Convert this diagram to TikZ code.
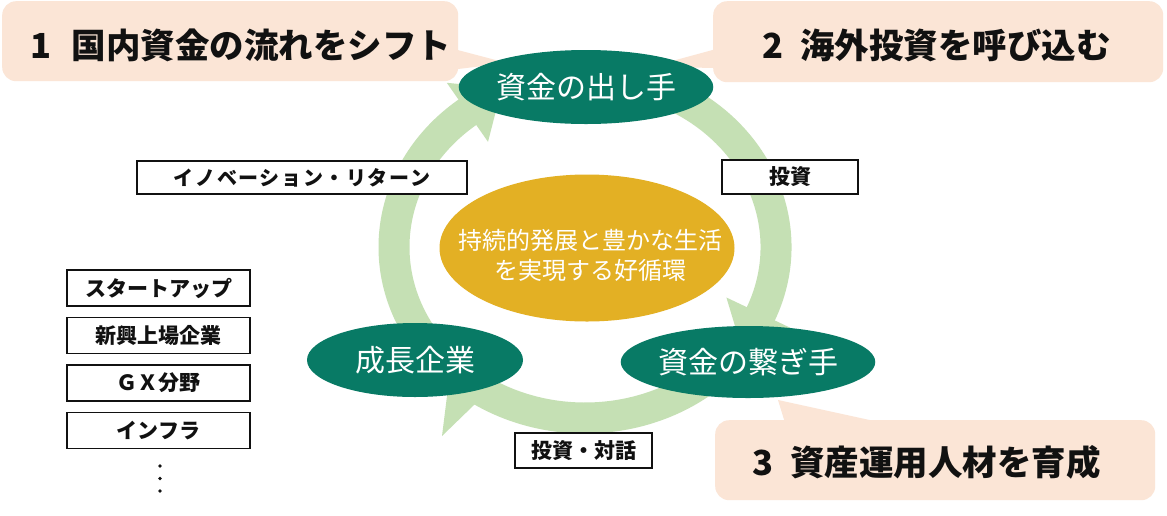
\documentclass[tikz,border=0pt]{standalone}
\usepackage{fontspec}
\setmainfont{Noto Sans CJK JP}
\usetikzlibrary{shapes.geometric}
\definecolor{peach}{HTML}{FBE5D6}
\definecolor{ringgreen}{HTML}{C5E0B4}
\definecolor{darkteal}{HTML}{087A65}
\definecolor{goldfill}{HTML}{E3B024}
\definecolor{inkblack}{HTML}{111111}
\begin{document}
\begin{tikzpicture}[x=1pt,y=-1pt,
  callout/.style={fill=peach, rounded corners=14pt, inner sep=0pt},
  calltext/.style={anchor=west, inner sep=0pt, text=inkblack, font=\bfseries\fontsize{34.5}{40}\selectfont},
  ell/.style={ellipse, fill=darkteal, inner sep=0pt, text=white, font=\fontsize{30}{36}\selectfont},
  band/.style={draw=ringgreen, line width=31pt},
  headfill/.style={fill=ringgreen},
  lbox/.style={draw=inkblack, line width=1.3pt, fill=white, inner sep=0pt, minimum height=34pt, text=inkblack, font=\bfseries\fontsize{21}{24}\selectfont},
]
\useasboundingbox (0,0) rectangle (1167,515);
\fill[white] (0,0) rectangle (1167,515);

% callouts
\node[callout, minimum width=456pt, minimum height=80pt, anchor=north west] (c1) at (2,1) {};
\coordinate (t1) at (507,63);
\fill[peach] (450,48) -- (t1) -- (450,70) -- cycle;
\node[callout, minimum width=450pt, minimum height=81pt, anchor=north west] (c2) at (713,1) {};
\coordinate (t2) at (650,67);
\fill[peach] (720,48) -- (t2) -- (720,68) -- cycle;
\node[callout, minimum width=440pt, minimum height=80pt, anchor=north west] (c3) at (715,420) {};
\coordinate (t3) at (778,400);
\fill[peach] (786,426) -- (t3) -- (897,426) -- cycle;

% ring of arrows
\coordinate (ring) at (585,247);
\draw[band] ([shift={(148:191 and 171)}]ring) arc[start angle=148, end angle=234, x radius=191, y radius=171];
\fill[headfill] (501.8,88.2) -- (488.0,141.8) -- (446.8,82.8) -- cycle;
\draw[band] ([shift={(295:191 and 171)}]ring) arc[start angle=295, end angle=385, x radius=191, y radius=171];
\fill[headfill] (742.8,351.8) -- (795.2,330.1) -- (726.4,297.5) -- cycle;
\draw[band] ([shift={(50:191 and 171)}]ring) arc[start angle=50, end angle=124, x radius=191, y radius=171];
\fill[headfill] (448,388) -- (506,374) -- (442,436) -- cycle;

% ellipses
\node[ell, minimum width=216pt, minimum height=74pt] (giver) at (586,87) {資金の出し手};
\node[ell, minimum width=216pt, minimum height=74pt] (growth) at (415,360) {成長企業};
\node[ell, minimum width=220pt, minimum height=72pt] (bridge) at (748,362) {資金の繋ぎ手};
\node[ellipse, fill=goldfill, minimum width=295pt, minimum height=147pt, inner sep=0pt] (core) at (587,248) {};
\node[text=white, align=center, font=\fontsize{24}{30}\selectfont, inner sep=0pt] (coretext) at (590,255) {持続的発展と豊かな生活\\を実現する好循環};

% label boxes
\node[lbox, minimum width=330pt, minimum height=33pt, font=\bfseries\fontsize{20}{24}\selectfont] (innov) at (302,177.5) {\addfontfeature{LetterSpace=8}イノベーション・リターン};
\node[lbox, minimum width=136pt] (inv) at (790,177) {投資};
\node[lbox, minimum width=137pt, minimum height=35pt] (dial) at (583.5,450.5) {投資・対話};
\node[lbox, minimum width=183pt, minimum height=36pt] (l1) at (158.5,288) {スタートアップ};
\node[lbox, minimum width=183pt, minimum height=36pt] (l2) at (158.5,335.5) {新興上場企業};
\node[lbox, minimum width=183pt, minimum height=36pt] (l3) at (158.5,383) {ＧＸ分野};
\node[lbox, minimum width=183pt, minimum height=36pt] (l4) at (158.5,430.5) {インフラ};
\fill[inkblack] (160,466) circle[radius=1.9];
\fill[inkblack] (160,478.5) circle[radius=1.9];
\fill[inkblack] (160,491) circle[radius=1.9];

% callout texts
\node[calltext] (c1t) at (30,45) {1\hspace{0.6em}国内資金の流れをシフト};
\node[calltext] (c2t) at (762,45) {2\hspace{0.5em}海外投資を呼び込む};
\node[calltext] (c3t) at (752,462) {3\hspace{0.5em}資産運用人材を育成};
\end{tikzpicture}
\end{document}
